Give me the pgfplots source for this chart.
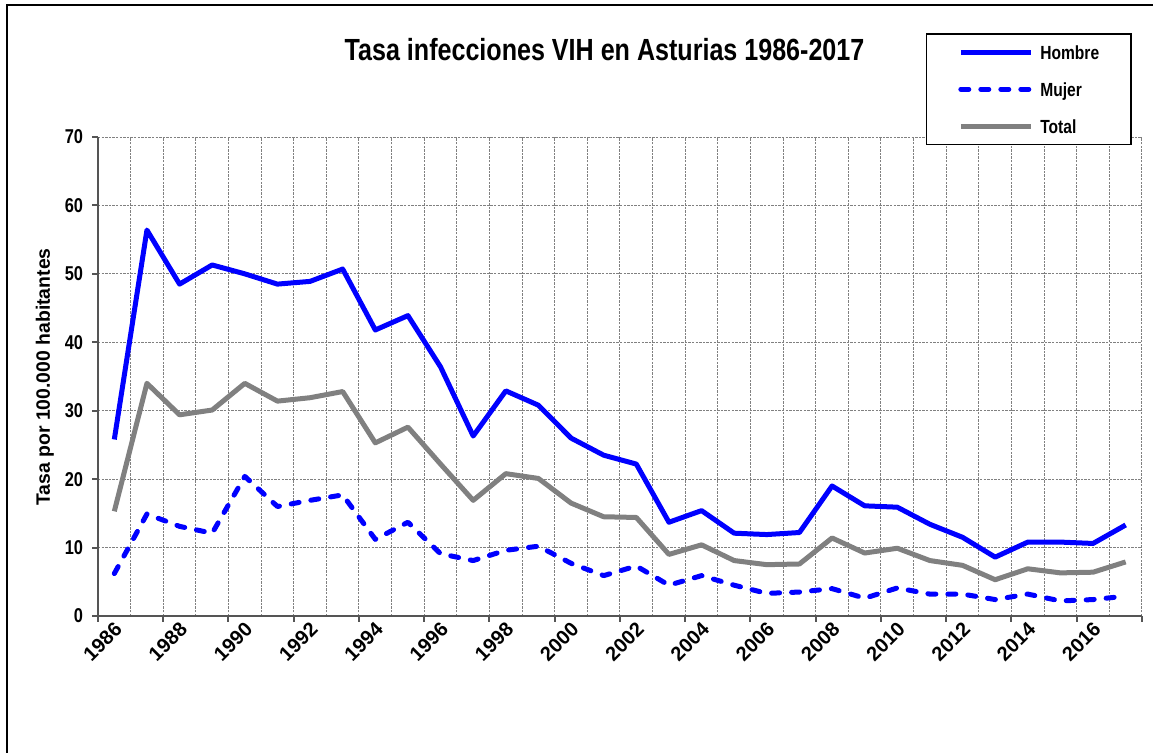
\documentclass[border=0pt]{standalone}
\usepackage{fontspec}
\setmainfont{Liberation Sans}[FakeStretch=0.82]
\newfontfamily\widefont{Liberation Sans}
\usepackage{pgfplots}
\usepackage{pgfplotstable}
\pgfplotsset{compat=1.18}

\definecolor{hombreblue}{RGB}{0,0,255}
\definecolor{totalgray}{RGB}{128,128,128}
\definecolor{axisgray}{RGB}{85,85,85}

% tasas por 100.000 habitantes
\pgfplotstableread{
year hombre mujer total
1986 25.8 6.2 15.3
1987 56.4 14.9 34.0
1988 48.5 13.1 29.4
1989 51.3 12.1 30.1
1990 50.0 20.4 34.0
1991 48.5 16.0 31.4
1992 48.9 16.9 31.9
1993 50.7 17.7 32.8
1994 41.8 11.2 25.3
1995 43.9 13.7 27.6
1996 36.4 9.1 22.2
1997 26.3 8.1 16.9
1998 32.9 9.6 20.8
1999 30.8 10.2 20.1
2000 26.0 7.7 16.5
2001 23.5 5.9 14.5
2002 22.2 7.3 14.4
2003 13.7 4.5 9.0
2004 15.4 5.9 10.4
2005 12.1 4.5 8.1
2006 11.9 3.3 7.5
2007 12.2 3.5 7.6
2008 19.0 4.0 11.4
2009 16.1 2.6 9.2
2010 15.9 4.1 9.9
2011 13.4 3.2 8.1
2012 11.5 3.2 7.4
2013 8.6 2.4 5.3
2014 10.8 3.2 6.9
2015 10.8 2.2 6.3
2016 10.6 2.4 6.4
2017 13.3 2.9 7.9
}\datatable

\begin{document}
\begin{tikzpicture}
\useasboundingbox (-49pt,-68.5pt) rectangle (527.5pt,308pt);
% marco exterior (solo bordes izquierdo y superior visibles)
\draw[line width=1pt] (-45.5pt,-80pt) -- (-45.5pt,305.5pt) -- (600pt,305.5pt);
\begin{axis}[
  name=ax, at={(0,0)}, anchor=south west,
  scale only axis, width=522pt, height=239.5pt,
  xmin=1985.5, xmax=2017.5, ymin=0, ymax=70,
  axis x line*=bottom, axis y line*=left,
  axis line style={draw=axisgray, line width=1pt},
  tick align=outside,
  major tick length=2.8pt, minor tick length=0pt,
  xtick={1986,1988,...,2016},
  major x tick style={draw=none},
  minor xtick={1985.5,1986.5,...,2017.5},
  xminorgrids=true, ymajorgrids=true, xmajorgrids=false,
  extra x ticks={1985.5,1987.5,...,2017.5},
  extra x tick labels={},
  extra x tick style={grid=none, every major x tick/.style={draw=axisgray, line width=1pt}},
  ytick={0,10,...,70},
  y tick style={draw=axisgray, line width=1pt},
  minor grid style={draw=gray, line width=0.5pt, dash pattern=on 1.2pt off 0.6pt},
  major grid style={draw=gray, line width=0.5pt, dash pattern=on 1.2pt off 0.6pt},
  /pgf/number format/assume math mode=true,
  xticklabel style={rotate=45, anchor=east, inner sep=1pt, yshift=-3pt, xshift=1pt,
    font=\widefont\bfseries\fontsize{10}{10}\selectfont, /pgf/number format/1000 sep={}},
  yticklabel style={font=\bfseries\fontsize{10}{10}\selectfont, inner sep=1pt, xshift=-3.5pt},
  ylabel={Tasa por 100.000 habitantes},
  every axis y label/.style={at={(axis description cs:-0.0508,0.499)}, rotate=90, anchor=center,
    font=\widefont\bfseries\fontsize{9.7}{10}\selectfont},
  title={Tasa infecciones VIH en Asturias 1986-2017},
  every axis title/.style={at={(axis description cs:0.4852,1.1816)}, anchor=center,
    font=\bfseries\fontsize{15.3}{16}\selectfont},
  legend cell align=left,
  legend image code/.code={\draw[#1] (0pt,0pt) -- (35pt,0pt);},
  legend style={at={(axis description cs:0.9904,1.2171)}, anchor=north east,
    draw=black, line width=0.8pt, fill=white,
    inner xsep=16pt, inner ysep=5.8pt, row sep=11.7pt,
    nodes={inner sep=0pt, text height=6.8pt, text depth=0pt},
    /tikz/every odd column/.append style={column sep=3.5pt},
    font=\bfseries\fontsize{9.5}{10}\selectfont},
]
\addplot[hombreblue, line width=2.5pt, line join=round] table[x=year, y=hombre] {\datatable};
\addlegendentry{Hombre}
\addplot[hombreblue, line width=2.5pt, line join=round, line cap=round, dash pattern=on 4pt off 6pt] table[x=year, y=mujer] {\datatable};
\addlegendentry{Mujer}
\addplot[totalgray, line width=2.5pt, line join=round] table[x=year, y=total] {\datatable};
\addlegendentry{Total}
\end{axis}
\end{tikzpicture}
\end{document}
